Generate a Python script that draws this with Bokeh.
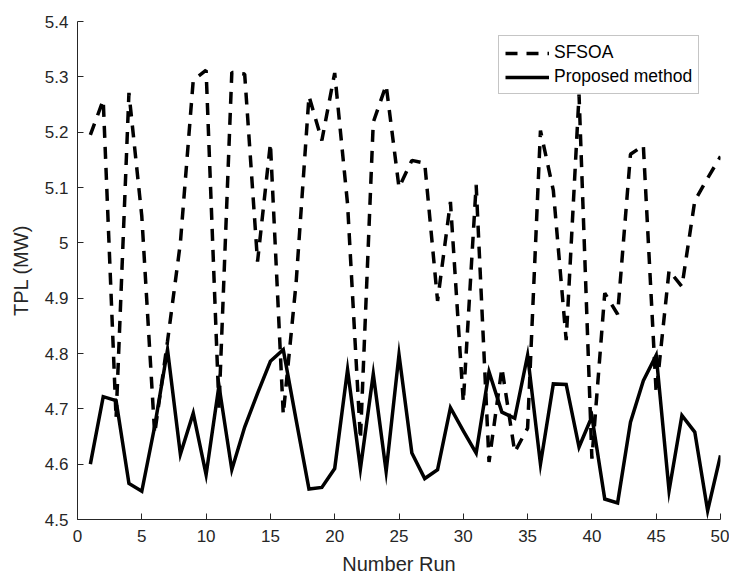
from bokeh.plotting import figure
from bokeh.models import Legend, LegendItem, FixedTicker, CustomJSTickFormatter, Range1d
from bokeh.embed import file_html
from bokeh.resources import INLINE

# ---- data ----
runs = list(range(1, 51))
sfsoa = [5.195, 5.258, 4.683, 5.271, 5.048, 4.655, 4.822, 5.000, 5.294, 5.312,
         4.702, 5.308, 5.305, 4.966, 5.180, 4.690, 4.928, 5.265, 5.185, 5.307,
         5.070, 4.645, 5.218, 5.285, 5.100, 5.149, 5.144, 4.895, 5.074, 4.712,
         5.105, 4.604, 4.774, 4.622, 4.665, 5.203, 5.095, 4.824, 5.268, 4.610,
         4.909, 4.871, 5.160, 5.176, 4.728, 4.950, 4.921, 5.076, 5.117, 5.156]
proposed = [4.600, 4.722, 4.715, 4.565, 4.551, 4.668, 4.807, 4.618, 4.692, 4.581,
            4.742, 4.590, 4.667, 4.728, 4.786, 4.807, 4.680, 4.555, 4.558, 4.592,
            4.771, 4.592, 4.763, 4.587, 4.798, 4.620, 4.574, 4.590, 4.702, 4.660,
            4.620, 4.767, 4.694, 4.683, 4.797, 4.600, 4.745, 4.744, 4.631, 4.686,
            4.537, 4.530, 4.676, 4.751, 4.797, 4.552, 4.688, 4.658, 4.516, 4.616]
series_names = ["SFSOA", "Proposed method"]
x_ticks = [0, 5, 10, 15, 20, 25, 30, 35, 40, 45, 50]
y_ticks = [4.5, 4.6, 4.7, 4.8, 4.9, 5.0, 5.1, 5.2, 5.3, 5.4]
x_label = "Number Run"
y_label = "TPL (MW)"

FONT = "Liberation Sans"
GREY = "#262626"

p = figure(width=729, height=579, output_backend="svg", toolbar_location=None,
           x_range=Range1d(0, 50), y_range=Range1d(4.5, 5.4),
           min_border_left=77, min_border_right=9, min_border_top=21, min_border_bottom=60,
           background_fill_color="white", border_fill_color="white")
p.outline_line_color = None
p.xgrid.visible = False
p.ygrid.visible = False

r1 = p.line(runs, sfsoa, line_color="black", line_width=3.5, line_dash="12 9")
r2 = p.line(runs, proposed, line_color="black", line_width=3.5, line_join="miter")

for ax in (p.xaxis[0], p.yaxis[0]):
    ax.axis_line_color = GREY
    ax.major_tick_line_color = GREY
    ax.major_tick_in = 6
    ax.major_tick_out = 0
    ax.minor_tick_line_color = None
    ax.major_label_text_font = FONT
    ax.major_label_text_font_size = "17px"
    ax.major_label_text_color = GREY
    ax.axis_label_text_font = FONT
    ax.axis_label_text_font_size = "20px"
    ax.axis_label_text_font_style = "normal"
    ax.axis_label_text_color = GREY

p.xaxis.ticker = FixedTicker(ticks=x_ticks)
p.yaxis.ticker = FixedTicker(ticks=y_ticks)
p.yaxis.formatter = CustomJSTickFormatter(code="return String(Number(tick.toFixed(1)));")
p.xaxis.axis_label = x_label
p.yaxis.axis_label = y_label
p.xaxis.major_label_standoff = 10
p.xaxis.axis_label_standoff = 8
p.yaxis.major_label_standoff = 9
p.yaxis.axis_label_standoff = 10

legend = Legend(items=[LegendItem(label=series_names[0], renderers=[r1]),
                       LegendItem(label=series_names[1], renderers=[r2])],
                location=(421, 425), margin=0, padding=6, spacing=3,
                glyph_width=44, glyph_height=20, label_height=20, label_standoff=5,
                label_text_font=FONT, label_text_font_size="17.5px", label_text_color="black",
                border_line_color="#8c8c8c", border_line_width=1,
                background_fill_color="white", background_fill_alpha=1.0)
p.add_layout(legend, "center")

open("out.html", "w").write(file_html(p, INLINE))
